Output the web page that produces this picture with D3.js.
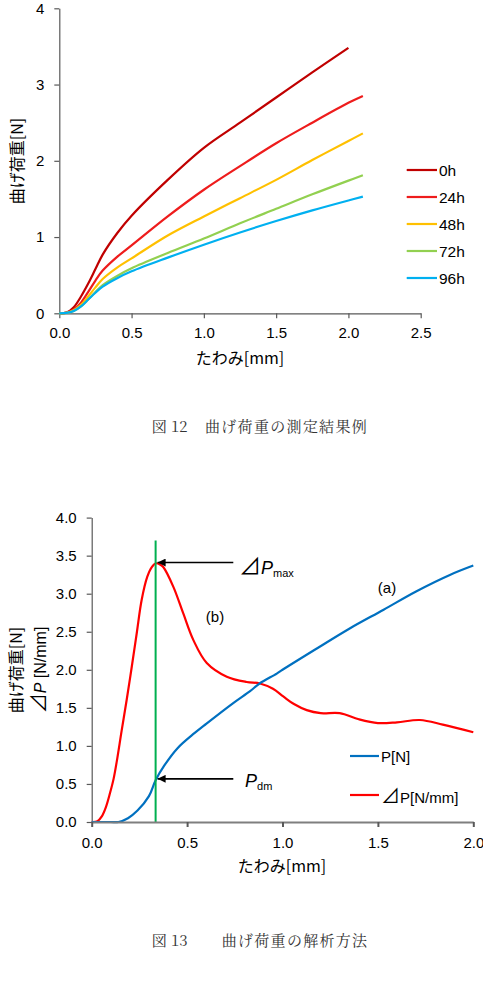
<!DOCTYPE html>
<html>
<head>
<meta charset="utf-8">
<script src="https://cdn.jsdelivr.net/npm/d3@7/dist/d3.min.js"></script>
<style>
body { margin:0; background:#fff; }
svg text { font-family: "Liberation Sans", Arial, "Noto Sans CJK JP", sans-serif; fill:#000; }
svg text.jp, svg tspan.jp { font-family: "Noto Sans CJK JP", sans-serif; }
svg text.cap { font-family: "Noto Serif CJK JP", "Noto Sans CJK JP", serif; fill:#333; }
</style>
</head>
<body>
<svg id="chart" width="483" height="991"></svg>
<script>
// 図12 曲げ荷重の測定結果例
var v_TopX     = [0, 0.05, 0.1, 0.15, 0.2, 0.25, 0.3, 0.4, 0.5, 0.75, 1.0, 1.25, 1.5, 1.75, 2.0, 2.1];
var v_TopNames = ["0h", "24h", "48h", "72h", "96h"];
var v_Top0h    = [0, 0.01, 0.08, 0.22, 0.39, 0.58, 0.77, 1.05, 1.28, 1.75, 2.17, 2.50, 2.83, 3.16, 3.48];
var v_Top24h   = [0, 0.01, 0.05, 0.14, 0.28, 0.43, 0.56, 0.74, 0.89, 1.27, 1.62, 1.93, 2.23, 2.50, 2.76, 2.85];
var v_Top48h   = [0, 0.005, 0.04, 0.11, 0.22, 0.34, 0.45, 0.60, 0.72, 1.02, 1.27, 1.51, 1.75, 2.01, 2.26, 2.36];
var v_Top72h   = [0, 0.005, 0.03, 0.09, 0.18, 0.28, 0.37, 0.49, 0.59, 0.79, 0.98, 1.18, 1.37, 1.56, 1.74, 1.81];
var v_Top96h   = [0, 0.005, 0.03, 0.09, 0.18, 0.27, 0.35, 0.46, 0.55, 0.73, 0.90, 1.06, 1.21, 1.35, 1.48, 1.53];
var v_TopXTicks = [0, 0.5, 1.0, 1.5, 2.0, 2.5];
var v_TopYTicks = [0, 1, 2, 3, 4];

// 図13 曲げ荷重の解析方法
var v_PX  = [0, 0.1, 0.14, 0.19, 0.24, 0.3, 0.335, 0.38, 0.45, 0.54, 0.6, 0.74, 0.83, 0.88, 0.97, 1.0, 1.18, 1.35, 1.53, 1.7, 1.88, 2.0];
var v_P   = [0, 0, 0, 0.05, 0.15, 0.34, 0.55, 0.74, 0.97, 1.17, 1.29, 1.56, 1.72, 1.82, 1.95, 2.0, 2.28, 2.54, 2.79, 3.03, 3.25, 3.37];
var v_DPX = [0, 0.03, 0.052, 0.075, 0.096, 0.115, 0.131, 0.157, 0.183, 0.21, 0.236, 0.262, 0.291, 0.315, 0.337, 0.36, 0.375, 0.428, 0.48, 0.533, 0.603, 0.708, 0.812, 0.882, 0.95, 1.004, 1.06, 1.127, 1.2, 1.3, 1.4, 1.5, 1.6, 1.72, 1.84, 2.0];
var v_DP  = [0, 0.01, 0.07, 0.2, 0.38, 0.57, 0.79, 1.2, 1.60, 2.04, 2.48, 2.92, 3.22, 3.35, 3.40, 3.38, 3.35, 3.09, 2.74, 2.39, 2.09, 1.91, 1.84, 1.82, 1.75, 1.65, 1.55, 1.47, 1.43, 1.43, 1.35, 1.30, 1.31, 1.34, 1.28, 1.18];
var v_BotNames  = ["P[N]", "P[N/mm]"];
var v_DmX       = 0.335;   // 緑線の位置
var v_DmTop     = 3.7;
var v_BotXTicks = [0, 0.5, 1.0, 1.5, 2.0];
var v_BotYTicks = [0, 0.5, 1.0, 1.5, 2.0, 2.5, 3.0, 3.5, 4.0];

var v_TopColors = ["#C00000", "#EE1C1C", "#FFC000", "#92D050", "#00B0F0"];
var v_AxisColor = "#595959";

var v_SVG = d3.select("#chart");

v_SVG.append("defs").append("marker")
    .attr("id", "arrow")
    .attr("viewBox", "0 0 10 10")
    .attr("refX", 10).attr("refY", 5)
    .attr("markerWidth", 9).attr("markerHeight", 8)
    .attr("markerUnits", "userSpaceOnUse")
    .attr("orient", "auto")
    .append("path")
    .attr("d", "M0,0 L10,5 L0,10 Z")
    .attr("fill", "#000");


function styleAxis(i_G, i_Width)
{
    i_G.select(".domain").attr("stroke", v_AxisColor).attr("stroke-width", i_Width);
    i_G.selectAll(".tick line").attr("stroke", v_AxisColor).attr("stroke-width", i_Width);
    i_G.selectAll(".tick text").attr("font-size", 15).attr("fill", "#000");
}


function drawLine(i_G, i_X, i_Y, i_XS, i_YS, i_Color)
{
    let v_Pts = i_XS.slice(0, i_YS.length).map(function (d, i) { return [d, i_YS[i]]; });
    i_G.append("path")
        .datum(v_Pts)
        .attr("fill", "none")
        .attr("stroke", i_Color)
        .attr("stroke-width", 2.2)
        .attr("stroke-linejoin", "round")
        .attr("d", d3.line()
            .x(function (d) { return i_X(d[0]); })
            .y(function (d) { return i_Y(d[1]); })
            .curve(d3.curveCatmullRom.alpha(0.5)));
}


// ---------------- 図12 ----------------
var v_X1 = d3.scaleLinear().domain([0, 2.5]).range([59.3, 420.7]);
var v_Y1 = d3.scaleLinear().domain([0, 4]).range([313.3, 8.3]);
var v_G1 = v_SVG.append("g");

var v_Ax1 = v_G1.append("g").attr("transform", "translate(0," + v_Y1(0) + ")")
    .call(d3.axisBottom(v_X1).tickValues(v_TopXTicks).tickFormat(d3.format(".1f")).tickSizeInner(5).tickSizeOuter(0).tickPadding(9));
styleAxis(v_Ax1, 1.2);
var v_Ay1 = v_G1.append("g").attr("transform", "translate(" + v_X1(0) + ",0)")
    .call(d3.axisLeft(v_Y1).tickValues(v_TopYTicks).tickFormat(d3.format("d")).tickSizeInner(5).tickSizeOuter(0).tickPadding(10));
styleAxis(v_Ay1, 1.2);

var v_TopData = [v_Top0h, v_Top24h, v_Top48h, v_Top72h, v_Top96h];
v_TopData.forEach(function (d, i)
{
    drawLine(v_G1, v_X1, v_Y1, v_TopX, d, v_TopColors[i]);
});

// 凡例
v_TopNames.forEach(function (d, i)
{
    let v_LY = 170 + i * 27;
    v_G1.append("line").attr("x1", 406.7).attr("x2", 437).attr("y1", v_LY).attr("y2", v_LY)
        .attr("stroke", v_TopColors[i]).attr("stroke-width", 2.2);
    v_G1.append("text").attr("x", 439).attr("y", v_LY + 5.5).attr("font-size", 15.5).text(d);
});

v_G1.append("text").attr("class", "jp")
    .attr("transform", "translate(23,161) rotate(-90)")
    .attr("text-anchor", "middle").attr("font-size", 16).text("曲げ荷重[N]");
v_G1.append("text").attr("class", "jp")
    .attr("x", 240).attr("y", 364)
    .attr("text-anchor", "middle").attr("font-size", 16).text("たわみ[mm]");

v_SVG.append("text").attr("class", "cap").attr("x", 151.7).attr("y", 432).attr("font-size", 15).text("図");
v_SVG.append("text").attr("class", "cap").attr("x", 171).attr("y", 432).attr("font-size", 15).text("12");
v_SVG.append("text").attr("class", "cap").attr("x", 205).attr("y", 432).attr("font-size", 15)
    .attr("letter-spacing", 1.3).text("曲げ荷重の測定結果例");


// ---------------- 図13 ----------------
var v_X2 = d3.scaleLinear().domain([0, 2]).range([91.7, 473.3]);
var v_Y2 = d3.scaleLinear().domain([0, 4]).range([822, 517.6]);
var v_G2 = v_SVG.append("g");

var v_Ay2 = v_G2.append("g").attr("transform", "translate(" + v_X2(0) + ",0)")
    .call(d3.axisLeft(v_Y2).tickValues(v_BotYTicks).tickFormat(d3.format(".1f")).tickSizeInner(5).tickSizeOuter(0).tickPadding(10));
styleAxis(v_Ay2, 1.2);

drawLine(v_G2, v_X2, v_Y2, v_DPX, v_DP, "#FF0000");
drawLine(v_G2, v_X2, v_Y2, v_PX, v_P, "#0070C0");

v_G2.append("line")
    .attr("x1", v_X2(v_DmX)).attr("x2", v_X2(v_DmX))
    .attr("y1", v_Y2(v_DmTop)).attr("y2", v_Y2(0))
    .attr("stroke", "#00B050").attr("stroke-width", 2);

var v_Ax2 = v_G2.append("g").attr("transform", "translate(0," + v_Y2(0) + ")")
    .call(d3.axisBottom(v_X2).tickValues(v_BotXTicks).tickFormat(d3.format(".1f")).tickSizeInner(5).tickSizeOuter(0).tickPadding(10));
styleAxis(v_Ax2, 2);
v_Ax2.select(".domain").attr("stroke", "#7f7f7f");

// 矢印
var v_PeakY = d3.max(v_DP);
var v_PdmY  = v_P[v_PX.indexOf(v_DmX)];
[[v_PeakY, -0.7], [v_PdmY, -1.3]].forEach(function (d)
{
    v_G2.append("line")
        .attr("x1", 233.3).attr("x2", v_X2(v_DmX) + 2)
        .attr("y1", v_Y2(d[0]) + d[1]).attr("y2", v_Y2(d[0]) + d[1])
        .attr("stroke", "#000").attr("stroke-width", 1.6)
        .attr("marker-end", "url(#arrow)");
});

var v_T1 = v_G2.append("text").attr("x", 239).attr("y", 574).attr("font-size", 18);
v_T1.append("tspan").attr("class", "jp").attr("font-size", 22).text("⊿");
v_T1.append("tspan").attr("font-style", "italic").text("P");
v_T1.append("tspan").attr("font-size", 11).attr("dy", 3).text("max");

var v_T2 = v_G2.append("text").attr("x", 245).attr("y", 787).attr("font-size", 18);
v_T2.append("tspan").attr("font-style", "italic").text("P");
v_T2.append("tspan").attr("font-size", 11).attr("dy", 3).text("dm");

v_G2.append("text").attr("x", 215).attr("y", 622).attr("text-anchor", "middle").attr("font-size", 15).text("(b)");
v_G2.append("text").attr("x", 387).attr("y", 593).attr("text-anchor", "middle").attr("font-size", 15).text("(a)");

// 凡例
[["#0070C0", 756], ["#FF0000", 795]].forEach(function (d, i)
{
    v_G2.append("line").attr("x1", 350).attr("x2", 379).attr("y1", d[1]).attr("y2", d[1])
        .attr("stroke", d[0]).attr("stroke-width", 2.2);
    let v_LT = v_G2.append("text").attr("x", 381).attr("y", d[1] + 6 + (i ? 2 : 0)).attr("font-size", 15);
    if ( i == 1 )
    {
        v_LT.append("tspan").attr("class", "jp").attr("font-size", 19).text("⊿");
    }
    v_LT.append("tspan").text(v_BotNames[i]);
});

var v_YL = v_G2.append("g").attr("transform", "translate(0,670) rotate(-90)");
v_YL.append("text").attr("class", "jp").attr("x", 0).attr("y", 22)
    .attr("text-anchor", "middle").attr("font-size", 16).text("曲げ荷重[N]");
var v_YL2 = v_YL.append("text").attr("x", 0).attr("y", 46).attr("text-anchor", "middle").attr("font-size", 16);
v_YL2.append("tspan").attr("class", "jp").attr("font-size", 20).text("⊿");
v_YL2.append("tspan").attr("font-style", "italic").text("P");
v_YL2.append("tspan").text(" [N/mm]");

v_G2.append("text").attr("class", "jp")
    .attr("x", 282).attr("y", 872)
    .attr("text-anchor", "middle").attr("font-size", 16).text("たわみ[mm]");

v_SVG.append("text").attr("class", "cap").attr("x", 151.7).attr("y", 946).attr("font-size", 15).text("図");
v_SVG.append("text").attr("class", "cap").attr("x", 171).attr("y", 946).attr("font-size", 15).text("13");
v_SVG.append("text").attr("class", "cap").attr("x", 221.7).attr("y", 946).attr("font-size", 15)
    .attr("letter-spacing", 1.3).text("曲げ荷重の解析方法");
</script>
</body>
</html>
